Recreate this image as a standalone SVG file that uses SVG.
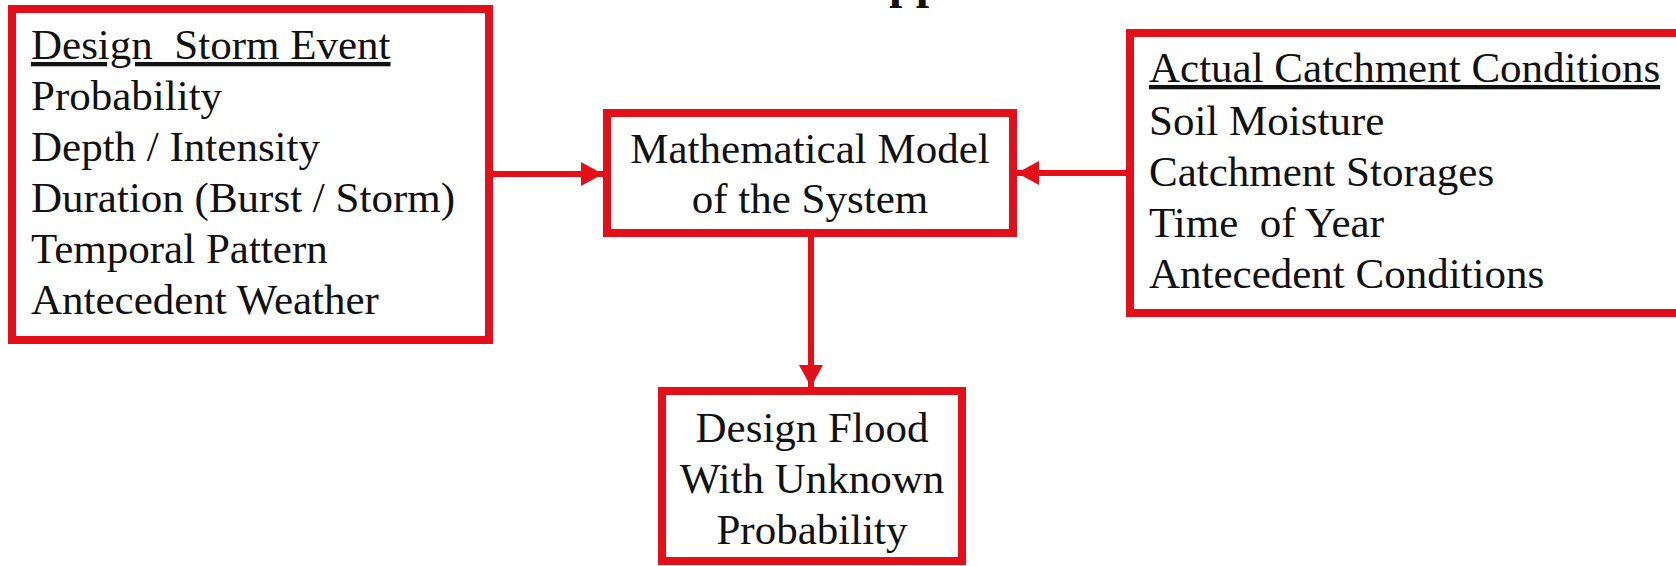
<svg xmlns="http://www.w3.org/2000/svg" width="1676" height="566" viewBox="0 0 1676 566">
<defs>
<style>
.box{fill:#fff;stroke:#e3101a;stroke-width:8;stroke-linejoin:miter}
.t{font-family:"Liberation Serif","Times New Roman",serif;font-size:43px;fill:#111}
.c{text-anchor:middle}
.u{text-decoration:underline}
.edge{stroke:#e3101a;stroke-width:6;fill:none}
</style>
<marker id="ah" markerUnits="userSpaceOnUse" markerWidth="24" markerHeight="26" refX="22" refY="12" orient="auto">
<path d="M0,0 L22,12 L0,24 Z" fill="#e3101a"/>
</marker>
</defs>
<rect width="1676" height="566" fill="#fff"/>
<text class="t" x="889" y="-2" style="font-size:48px;font-weight:bold">pp</text>
<g id="connectors">
<line class="edge" x1="493" y1="174" x2="603" y2="174" marker-end="url(#ah)"/>
<line class="edge" x1="1126" y1="173" x2="1017" y2="173" marker-end="url(#ah)"/>
<line class="edge" x1="811" y1="237" x2="811" y2="387" marker-end="url(#ah)"/>
</g>
<g id="design-storm">
<rect class="box" x="12" y="9" width="477" height="331"/>
<text class="t" x="31" y="59" xml:space="preserve"><tspan class="u">Design  Storm Event</tspan></text>
<text class="t" x="31" y="110">Probability</text>
<text class="t" x="31" y="161">Depth / Intensity</text>
<text class="t" x="31" y="212">Duration (Burst / Storm)</text>
<text class="t" x="31" y="263">Temporal Pattern</text>
<text class="t" x="31" y="314">Antecedent Weather</text>
</g>
<g id="model">
<rect class="box" x="607" y="113" width="406" height="120"/>
<text class="t c" x="810" y="163">Mathematical Model</text>
<text class="t c" x="810" y="213">of the System</text>
</g>
<g id="catchment">
<rect class="box" x="1130" y="33" width="560" height="280"/>
<text class="t" x="1149" y="82"><tspan class="u">Actual Catchment Conditions</tspan></text>
<text class="t" x="1149" y="135">Soil Moisture</text>
<text class="t" x="1149" y="186">Catchment Storages</text>
<text class="t" x="1149" y="237" xml:space="preserve">Time  of Year</text>
<text class="t" x="1149" y="288">Antecedent Conditions</text>
</g>
<g id="design-flood">
<rect class="box" x="662" y="391" width="300" height="170"/>
<text class="t c" x="812" y="442">Design Flood</text>
<text class="t c" x="812" y="493">With Unknown</text>
<text class="t c" x="812" y="544">Probability</text>
</g>
</svg>
